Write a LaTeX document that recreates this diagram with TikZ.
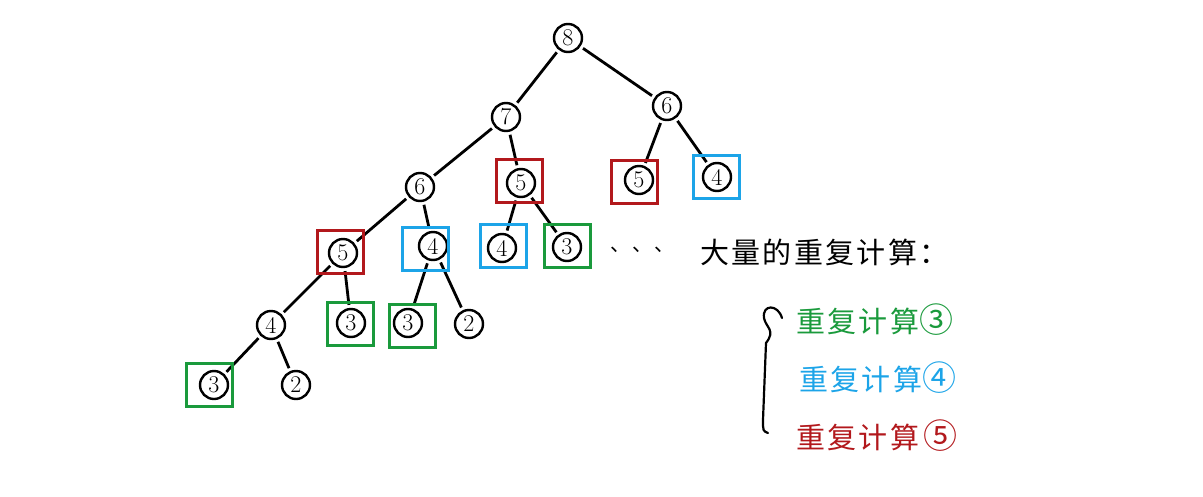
\documentclass[tikz,border=0pt]{standalone}
\usepackage{fontspec}
\newfontfamily\cjk[LetterSpace=8]{Noto Sans CJK SC}
\newcommand\ringnum[1]{{\fontsize{34}{34}\selectfont #1}}
\definecolor{redbox}{RGB}{178,24,28}
\definecolor{bluebox}{RGB}{28,164,232}
\definecolor{greenbox}{RGB}{26,154,60}
\begin{document}
\begin{tikzpicture}[x=1pt,y=-1pt,
   num/.style={shape=circle, draw, line width=2.4pt,
        minimum size=28pt, inner sep=0pt,
        font=\fontsize{24}{24}\selectfont},
   box/.style={shape=rectangle, draw=#1, line width=3pt,
        minimum width=46pt, minimum height=43pt},
   edge/.style={line width=2.8pt, shorten <=3pt, shorten >=3pt},
   note/.style={font=\cjk\fontsize{29}{32}\selectfont, anchor=west, inner sep=0pt}
   ]
\useasboundingbox (0,0) rectangle (1203,496);
\node[num] (n8)  at (568,38)  {8};
\node[num] (n7)  at (506,117) {7};
\node[num] (n6r) at (667,106) {6};
\node[num] (n6)  at (420,187) {6};
\node[num] (n5m) at (521,183) {5};
\node[num] (n5r) at (639,180) {5};
\node[num] (n4r) at (717,177) {4};
\node[num] (n5)  at (343,253) {5};
\node[num] (n4)  at (433,246) {4};
\node[num] (n4m) at (502,248) {4};
\node[num] (n3m) at (567,247) {3};
\node[num] (n4l) at (271,325) {4};
\node[num] (n3a) at (351,323) {3};
\node[num] (n3b) at (408,323) {3};
\node[num] (n2a) at (469,324) {2};
\node[num] (n3l) at (214,385) {3};
\node[num] (n2l) at (296,385) {2};
\draw[edge] (n8) -- (n7);
\draw[edge] (n8) -- (n6r);
\draw[edge] (n7) -- (n6);
\draw[edge] (n7) -- (n5m);
\draw[edge] (n6r) -- (n5r);
\draw[edge] (n6r) -- (n4r);
\draw[edge] (n6) -- (n5);
\draw[edge] (n6) -- (n4);
\draw[edge] (n5m) -- (n4m);
\draw[edge] (n5m) -- (n3m);
\draw[edge] (n5) -- (n4l);
\draw[edge] (n5) -- (n3a);
\draw[edge] (n4) -- (n3b);
\draw[edge] (n4) -- (n2a);
\draw[edge] (n4l) -- (n3l);
\draw[edge] (n4l) -- (n2l);
\node[box=redbox]   (b5m) at (519,181) {};
\node[box=redbox]   (b5r) at (634,182) {};
\node[box=bluebox]  (b4r) at (716,177) {};
\node[box=redbox]   (b5)  at (340,252) {};
\node[box=bluebox]  (b4)  at (425,249) {};
\node[box=bluebox]  (b4m) at (503,246) {};
\node[box=greenbox] (b3m) at (567,246) {};
\node[box=greenbox] (b3a) at (350,324) {};
\node[box=greenbox] (b3b) at (412,326) {};
\node[box=greenbox] (b3l) at (209,385) {};
\node[font=\cjk\fontsize{20}{20}\selectfont] (dots) at (642,250) {、\hspace{2pt}、\hspace{2pt}、};
\node[note] (many) at (700,252) {大量的重复计算：};
\node[note, text=greenbox] (rep3) at (796,320) {重复计算\ringnum{③}};
\node[note, text=bluebox]  (rep4) at (799,378) {重复计算\ringnum{④}};
\node[note, text=redbox]   (rep5) at (796,436) {重复计算\hspace{4pt}\ringnum{⑤}};
\draw[line width=2.2pt, line cap=round]
   (782,318) .. controls (778,304) and (762,304) .. (764,318)
   .. controls (766,328) and (776,330) .. (766,343)
   -- (763,420) .. controls (763,431) .. (768,433);
\end{tikzpicture}
\end{document}
